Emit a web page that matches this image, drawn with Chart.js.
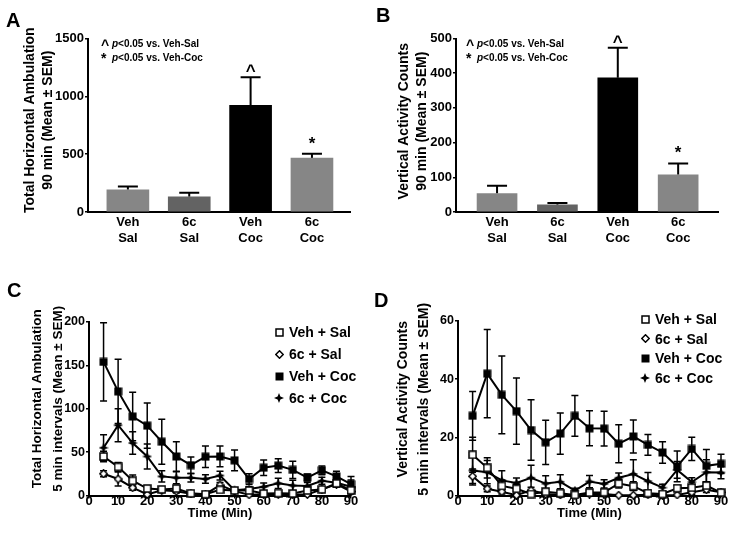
<!DOCTYPE html>
<html>
<head>
<meta charset="utf-8">
<script src="https://cdn.jsdelivr.net/npm/chart.js@4.4.1/dist/chart.umd.min.js"></script>
<style>
  html, body { margin: 0; padding: 0; background: #fff; }
  #wrap { position: relative; width: 732px; height: 540px; overflow: hidden; }
  #wrap canvas { position: absolute; }
  .letter { position: absolute; font: bold 20px "Liberation Sans", Arial, sans-serif; line-height: 23px; }
</style>
</head>
<body>
<div id="wrap">
  <canvas id="chartA" width="366" height="260" style="left:0;top:0"></canvas>
  <canvas id="chartB" width="366" height="260" style="left:366px;top:0"></canvas>
  <canvas id="chartC" width="366" height="260" style="left:0;top:280px"></canvas>
  <canvas id="chartD" width="366" height="260" style="left:366px;top:280px"></canvas>
  <div class="letter" style="left:6px;top:9px">A</div>
  <div class="letter" style="left:376px;top:4px">B</div>
  <div class="letter" style="left:7px;top:279px">C</div>
  <div class="letter" style="left:374px;top:289px">D</div>
</div>
<script>
// ---- data: 90 min totals (panels A, B) ----
const barCategories = [['Veh', 'Sal'], ['6c', 'Sal'], ['Veh', 'Coc'], ['6c', 'Coc']];
const barColors = ['#868686', '#636363', '#000000', '#868686'];
const barMarks = ['', '', '^', '*'];

const horizTotal = [192, 132, 922, 467];
const horizTotalSem = [28, 34, 243, 37];
const vertTotal = [53, 21, 387, 107];
const vertTotalSem = [23, 5, 86, 33];

// ---- data: 5 min intervals (panels C, D) ----
const timePoints = [5, 10, 15, 20, 25, 30, 35, 40, 45, 50, 55, 60, 65, 70, 75, 80, 85, 90];
const seriesNames = ['Veh + Sal', '6c + Sal', 'Veh + Coc', '6c + Coc'];

const horizVehSal = [45, 33, 17, 8, 7, 8, 2.5, 1.5, 6.5, 5.8, 5.8, 2.3, 2.7, 2.3, 5.8, 7, 14, 6];
const horizVehSalSem = [6, 5, 6.5, 2, 2, 2, 1, 1, 2, 1.5, 1.5, 1, 1, 1, 1.5, 2, 4, 2];
const horizSixSal = [25, 19, 9, 1.2, 6, 5, 2, 1.5, 12, 5, 0.8, 1.5, 1.5, 1.2, 1.2, 7, 13, 4.6];
const horizSixSalSem = [3.5, 8, 3, 1, 2, 2, 1, 1, 3, 1.5, 0.5, 0.5, 0.5, 0.5, 0.5, 2, 3, 2];
const horizVehCoc = [154, 120, 91, 80.5, 62, 45, 35, 44.7, 45, 40.5, 19, 32, 34.5, 29.6, 20.7, 29, 22, 13];
const horizVehCocSem = [45, 37, 28, 26, 26, 17, 9.5, 12.5, 12, 12, 6, 9, 8, 10, 4, 5, 6, 9];
const horizSixCoc = [55, 81, 60.5, 45, 22, 20.5, 20.5, 19, 23, 6, 7.5, 10, 14, 11.5, 11, 17, 14.6, 10];
const horizSixCocSem = [15, 19, 13, 14.5, 6.5, 7, 5, 5, 5, 2, 3, 4.5, 6, 6, 4, 4, 4, 8];

const vertVehSal = [14, 9.5, 3.3, 2.3, 0.5, 1.3, 0.8, 0.2, 1, 1.1, 4.1, 3.2, 0.8, 0.5, 2.5, 2.7, 3.4, 1];
const vertVehSalSem = [6, 3.5, 2, 1.5, 0.5, 1, 0.5, 0.2, 0.8, 0.8, 1.5, 1.5, 0.7, 0.5, 1, 1, 1.3, 0.8];
const vertSixSal = [6.6, 2.3, 1.3, 0.1, 1.8, 0.5, 0.2, 0.1, 0.5, 0.5, 0.1, 0.1, 0.3, 0.1, 0.2, 1.1, 2, 1.1];
const vertSixSalSem = [2.5, 1, 0.8, 0.1, 1, 0.4, 0.2, 0.1, 0.4, 0.4, 0.1, 0.1, 0.3, 0.1, 0.2, 0.8, 1, 0.8];
const vertVehCoc = [27.4, 41.9, 34.6, 29, 22.5, 18.3, 21.3, 27.4, 23.1, 23, 17.8, 20.3, 17.4, 14.8, 10, 16, 10.2, 10.9];
const vertVehCocSem = [8.4, 15.2, 13.4, 11.4, 10.4, 7.6, 7.1, 7, 6, 6, 6.5, 5.7, 3.6, 3.7, 5.3, 4, 5.6, 3.3];
const vertSixCoc = [8.6, 8, 5.2, 4.3, 6.1, 4.1, 4.7, 1.7, 4.8, 4, 6.1, 7.4, 4.9, 2.7, 8.8, 4.6, 8, 7.9];
const vertSixCocSem = [5, 4, 3.3, 1.7, 4.3, 2.7, 2.4, 0.8, 2.1, 1.4, 1.6, 4.9, 3, 1.2, 2.9, 1.5, 4.3, 2.1];

const FONT = '"Liberation Sans", Arial, sans-serif';
Chart.defaults.font.family = FONT;
Chart.defaults.color = '#000';
Chart.defaults.animation = false;

// marker images (GraphPad style symbols)
function makeMarker(kind) {
    const size = kind === 'star' ? 10 : 9;
    const c = document.createElement('canvas');
    c.width = c.height = size;
    const g = c.getContext('2d');
    const m = size / 2;
    g.lineWidth = 1.5;
    g.strokeStyle = '#000';
    g.fillStyle = '#000';
    if (kind === 'openSquare') {
        g.fillStyle = '#fff';
        g.fillRect(1, 1, size - 2, size - 2);
        g.strokeRect(1, 1, size - 2, size - 2);
    } else if (kind === 'square') {
        g.fillRect(0.5, 0.5, size - 1, size - 1);
    } else if (kind === 'openDiamond') {
        g.beginPath();
        g.moveTo(m, 0.8); g.lineTo(size - 0.8, m); g.lineTo(m, size - 0.8); g.lineTo(0.8, m);
        g.closePath();
        g.fillStyle = '#fff';
        g.fill();
        g.stroke();
    } else {
        const k = 1.4;
        g.beginPath();
        g.moveTo(m, 0); g.lineTo(m + k, m - k); g.lineTo(size, m); g.lineTo(m + k, m + k);
        g.lineTo(m, size); g.lineTo(m - k, m + k); g.lineTo(0, m); g.lineTo(m - k, m - k);
        g.closePath();
        g.fill();
    }
    return c;
}
const markers = [makeMarker('openSquare'), makeMarker('openDiamond'), makeMarker('square'), makeMarker('star')];

// error bars drawn under the marks, from the y scale
const errorBars = {
    id: 'errorBars',
    beforeDatasetsDraw(chart, args, opts) {
        const ctx = chart.ctx;
        const ys = chart.scales.y;
        ctx.save();
        ctx.strokeStyle = '#000';
        ctx.lineWidth = opts.lineWidth;
        chart.data.datasets.forEach((ds, i) => {
            if (!ds.sem) return;
            chart.getDatasetMeta(i).data.forEach((el, j) => {
                const v = ds.data[j].y, e = ds.sem[j];
                const top = ys.getPixelForValue(v + e);
                const bot = ys.getPixelForValue(opts.upOnly ? v : v - e);
                ctx.beginPath();
                ctx.moveTo(el.x, top); ctx.lineTo(el.x, bot);
                ctx.moveTo(el.x - opts.cap, top); ctx.lineTo(el.x + opts.cap, top);
                if (!opts.upOnly) { ctx.moveTo(el.x - opts.cap, bot); ctx.lineTo(el.x + opts.cap, bot); }
                ctx.stroke();
            });
        });
        ctx.restore();
    }
};

// two-line rotated y title, centred a little above the plot middle like the original
const yTitle = {
    id: 'yTitle',
    afterDraw(chart, args, opts) {
        const ctx = chart.ctx;
        const area = chart.chartArea;
        ctx.save();
        ctx.fillStyle = '#000';
        ctx.font = 'bold ' + opts.size + 'px ' + FONT;
        ctx.textAlign = 'center';
        ctx.textBaseline = 'middle';
        ctx.translate(opts.x, (area.top + area.bottom) / 2 - opts.lift);
        ctx.rotate(-Math.PI / 2);
        opts.lines.forEach((line, i) => ctx.fillText(line, 0, i * opts.gap));
        ctx.restore();
    }
};

// ^ and * above the bars, plus the little key in the corner
const barNotes = {
    id: 'barNotes',
    afterDatasetsDraw(chart, args, opts) {
        const ctx = chart.ctx;
        const ys = chart.scales.y;
        const ds = chart.data.datasets[0];
        ctx.save();
        ctx.fillStyle = '#000';
        ctx.textAlign = 'center';
        ctx.textBaseline = 'alphabetic';
        chart.getDatasetMeta(0).data.forEach((el, j) => {
            const mark = ds.marks[j];
            if (!mark) return;
            const top = ys.getPixelForValue(ds.data[j].y + ds.sem[j]);
            ctx.font = 'bold 17px ' + FONT;
            ctx.fillText(mark, el.x, top - (mark === '^' ? 1 : 5));
        });
        // key
        ctx.textAlign = 'left';
        const rows = [['^', 'Veh-Sal'], ['*', 'Veh-Coc']];
        rows.forEach((r, k) => {
            const y = opts.y + k * 14;
            ctx.font = 'bold 14px ' + FONT;
            ctx.fillText(r[0], opts.x, y + (r[0] === '^' ? 3 : 2));
            ctx.font = 'italic bold 10px ' + FONT;
            ctx.fillText('p', opts.x + 11, y);
            const pw = ctx.measureText('p').width;
            ctx.font = 'bold 10px ' + FONT;
            ctx.fillText('<0.05 vs. ' + r[1], opts.x + 11 + pw, y);
        });
        ctx.restore();
    }
};

// legend with the same symbols, inside the plot
const symbolLegend = {
    id: 'symbolLegend',
    afterDraw(chart, args, opts) {
        const ctx = chart.ctx;
        ctx.save();
        ctx.fillStyle = '#000';
        ctx.font = 'bold 14px ' + FONT;
        ctx.textAlign = 'left';
        ctx.textBaseline = 'middle';
        chart.data.datasets.forEach((ds, i) => {
            const y = opts.y + i * opts.gap;
            const img = ds.pointStyle;
            ctx.drawImage(img, Math.round(opts.x - img.width / 2), Math.round(y - img.height / 2));
            ctx.fillText(ds.label, opts.x + 10, y + 1);
        });
        ctx.restore();
    }
};

function yAxis(max, step, width, tickSize) {
    return {
        min: 0, max: max,
        afterFit: s => { s.width = width; },
        ticks: { stepSize: step, callback: v => String(v), font: { size: tickSize, weight: 'bold' }, padding: 1 },
        grid: { drawOnChartArea: false, drawTicks: true, tickLength: 3, color: '#000', lineWidth: 1.5 },
        border: { color: '#000', width: 2 }
    };
}

function barChart(id, values, sems, yMax, yStep, yWidth, xMin, xMax, thickness, title, padRight, note) {
    return new Chart(document.getElementById(id), {
        type: 'bar',
        data: {
            datasets: [{
                data: values.map((v, i) => ({ x: i, y: v })),
                sem: sems,
                marks: barMarks,
                backgroundColor: barColors,
                borderWidth: 0,
                barThickness: thickness
            }]
        },
        options: {
            responsive: false,
            devicePixelRatio: 1,
            layout: { padding: { left: 0, right: padRight, top: 38.5, bottom: 0 } },
            plugins: { legend: { display: false }, tooltip: { enabled: false },
                errorBars: { upOnly: true, cap: 10, lineWidth: 2 },
                barNotes: note, yTitle: title },
            scales: {
                x: {
                    type: 'linear', min: xMin, max: xMax, offset: false,
                    afterFit: s => { s.height = 48; },
                    afterBuildTicks: s => { s.ticks = barCategories.map((c, i) => ({ value: i })); },
                    ticks: { callback: v => barCategories[v], font: { size: 13, weight: 'bold', lineHeight: 1.25 }, padding: 2 },
                    grid: { display: false, drawTicks: false, offset: false },
                    border: { color: '#000', width: 2 }
                },
                y: yAxis(yMax, yStep, yWidth, 13)
            }
        },
        plugins: [errorBars, barNotes, yTitle]
    });
}

function lineChart(id, series, sems, yMax, yStep, yWidth, title, top, padRight, legend) {
    return new Chart(document.getElementById(id), {
        type: 'line',
        data: {
            datasets: series.map((vals, k) => ({
                label: seriesNames[k],
                data: timePoints.map((t, i) => ({ x: t, y: vals[i] })),
                sem: sems[k],
                borderColor: '#000',
                borderWidth: 2,
                pointStyle: markers[k],
                pointRadius: 4,
                tension: 0,
                clip: false
            }))
        },
        options: {
            responsive: false,
            devicePixelRatio: 1,
            layout: { padding: { left: 0, right: padRight, top: top, bottom: 0 } },
            plugins: { legend: { display: false }, tooltip: { enabled: false },
                errorBars: { upOnly: false, cap: 3.5, lineWidth: 1.5 },
                symbolLegend: legend, yTitle: title },
            scales: {
                x: {
                    type: 'linear', min: 0, max: 90,
                    afterFit: s => { s.height = 44.5; },
                    ticks: { stepSize: 10, font: { size: 13, weight: 'bold', lineHeight: 1 }, padding: -4 },
                    grid: { drawOnChartArea: false, drawTicks: true, tickLength: 3, color: '#000', lineWidth: 1.5 },
                    border: { color: '#000', width: 2 },
                    title: { display: true, text: 'Time (Min)', font: { size: 13, weight: 'bold', lineHeight: 1.2 }, padding: { top: 0, bottom: 19 } }
                },
                y: yAxis(yMax, yStep, yWidth, 12.5)
            }
        },
        plugins: [errorBars, symbolLegend, yTitle]
    });
}

barChart('chartA', horizTotal, horizTotalSem, 1500, 500, 88, -0.65, 3.62, 42,
    { lines: ['Total Horizontal Ambulation', '90 min (Mean \u00B1 SEM)'], size: 14, x: 30, gap: 18, lift: 5 },
    16, { x: 101, y: 47 });
barChart('chartB', vertTotal, vertTotalSem, 500, 100, 90, -0.68, 3.66, 40,
    { lines: ['Vertical Activity Counts', '90 min (Mean \u00B1 SEM)'], size: 14, x: 38, gap: 18.5, lift: 4 },
    14, { x: 100, y: 47 });

lineChart('chartC', [horizVehSal, horizSixSal, horizVehCoc, horizSixCoc],
    [horizVehSalSem, horizSixSalSem, horizVehCocSem, horizSixCocSem],
    200, 50, 89,
    { lines: ['Total Horizontal Ambulation', '5 min intervals (Mean \u00B1 SEM)'], size: 13.5, x: 37, gap: 21, lift: 10 },
    42, 15, { x: 279, y: 52, gap: 22 });
lineChart('chartD', [vertVehSal, vertSixSal, vertVehCoc, vertSixCoc],
    [vertVehSalSem, vertSixSalSem, vertVehCocSem, vertSixCocSem],
    60, 20, 92,
    { lines: ['Vertical Activity Counts', '5 min intervals (Mean \u00B1 SEM)'], size: 14, x: 37, gap: 21, lift: 9 },
    41, 11, { x: 279, y: 39, gap: 19.7 });
</script>
</body>
</html>
